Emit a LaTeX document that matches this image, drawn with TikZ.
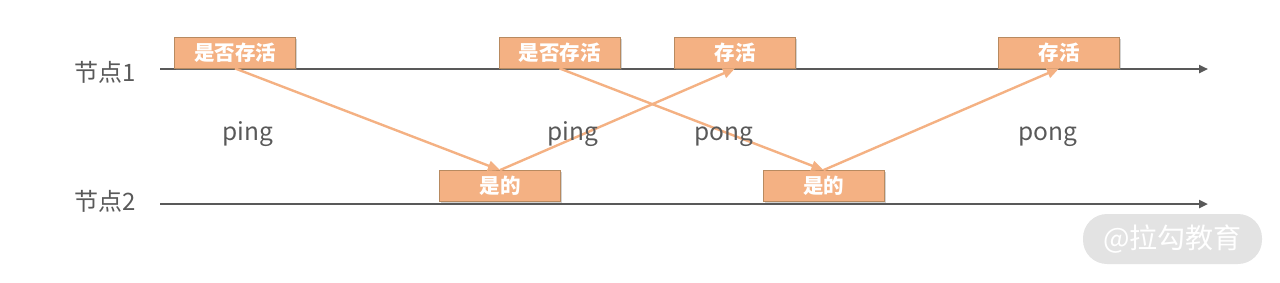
\documentclass[tikz,border=0pt]{standalone}
\usepackage{fontspec}
\setmainfont{Noto Sans CJK SC}
\usetikzlibrary{arrows.meta,shadows}
\definecolor{axisgray}{HTML}{595959}
\definecolor{boxfill}{HTML}{F4B183}
\definecolor{boxdraw}{HTML}{B88A60}
\definecolor{wmfill}{HTML}{E3E3E3}
\tikzset{
  axis/.style={draw=axisgray,line width=2.6pt,-{Triangle[length=9pt,width=8pt]}},
  msgbox/.style={draw=boxdraw,line width=0.8pt,fill=boxfill,minimum width=121pt,minimum height=31pt,inner sep=0pt,
    text=white,font=\fontsize{20.5}{22}\selectfont\bfseries,drop shadow={shadow xshift=1.5pt,shadow yshift=-1.5pt,opacity=0.35}},
  msg/.style={draw=boxfill,line width=2.4pt,-{Triangle[length=12pt,width=10pt]}},
  nodelabel/.style={text=axisgray,font=\fontsize{24}{26}\selectfont,inner sep=0pt},
  pinglabel/.style={text=axisgray,font=\fontsize{24.5}{26}\selectfont,inner sep=0pt,anchor=base}
}
\begin{document}
\begin{tikzpicture}[x=1pt,y=-1pt]
\useasboundingbox (0,0) rectangle (1280,282);
% axes
\coordinate (l1s) at (160,69);
\coordinate (l1e) at (1208,69);
\coordinate (l2s) at (160,204);
\coordinate (l2e) at (1208,204);
\draw[axis] (l1s) -- (l1e);
\draw[axis] (l2s) -- (l2e);
\node[nodelabel] (n1) at (105,72) {节点1};
\node[nodelabel] (n2) at (105,201) {节点2};
% boxes
\node[msgbox] (a) at (235,52.5) {是否存活};
\node[msgbox] (b) at (559.5,52.5) {是否存活};
\node[msgbox] (c) at (735,52.5) {存活};
\node[msgbox] (d) at (1059,52.5) {存活};
\node[msgbox] (e) at (500,186) {是的};
\node[msgbox] (f) at (823.5,186) {是的};
% messages
\draw[msg] (a.south) -- (e.north);
\draw[msg] (e.north) -- (c.south);
\draw[msg] (b.south) -- (f.north);
\draw[msg] (f.north) -- (d.south);
% labels
\node[pinglabel] (p1) at (248,140) {ping};
\node[pinglabel] (p2) at (573,140) {ping};
\node[pinglabel] (p3) at (724,140) {pong};
\node[pinglabel] (p4) at (1048,140) {pong};
% watermark
\node[fill=wmfill,rounded corners=24pt,minimum width=179pt,minimum height=50pt,text=white,font=\fontsize{28}{30}\selectfont,inner sep=0pt] (wm) at (1172.5,239) {@拉勾教育};
\end{tikzpicture}
\end{document}
